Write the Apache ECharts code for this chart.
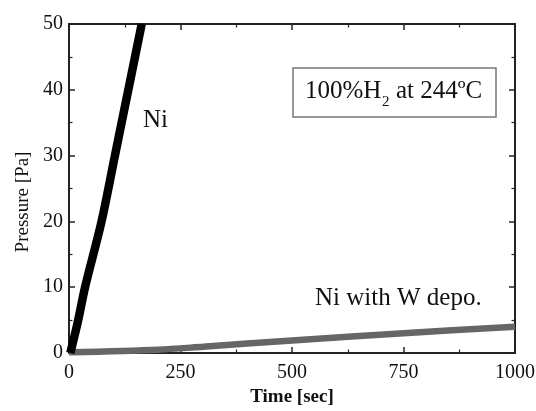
<!DOCTYPE html>
<html>
<head>
<meta charset="utf-8">
<script src="https://cdn.jsdelivr.net/npm/echarts@6/dist/echarts.min.js"></script>
<style>
  html, body { margin: 0; padding: 0; background: #fff; }
  #chart { width: 536px; height: 411px; }
</style>
</head>
<body>
<div id="chart"></div>
<script>
// Ni (plain) pressure rise, [time sec, pressure Pa]
var niData = [[3, 0], [20, 4.8], [36, 10], [73, 20], [103, 30], [133, 40], [163, 50]];
// Ni with W deposition
var niWData = [[0, 0.1], [200, 0.5], [300, 0.95], [500, 1.9], [750, 3.0], [1000, 4.0]];
var xTicks = [0, 250, 500, 750, 1000];
var yTicks = [0, 10, 20, 30, 40, 50];

var serif = '"Liberation Serif", "DejaVu Serif", serif';
var axisColor = '#222';

var chart = echarts.init(document.getElementById('chart'));

function frameAxis(extra) {
  return Object.assign({
    type: 'value',
    axisLine: { show: true, onZero: false, lineStyle: { color: axisColor, width: 2 } },
    axisTick: { show: true, inside: true, length: 6, lineStyle: { color: axisColor, width: 1.5 } },
    minorTick: { show: true, splitNumber: 2, length: 3.5, lineStyle: { color: axisColor, width: 1.2 } },
    splitLine: { show: false },
    minorSplitLine: { show: false }
  }, extra);
}

var option = {
  backgroundColor: '#fff',
  animation: false,
  grid: { left: 69, right: 21, top: 24, bottom: 58, outerBoundsMode: 'none' },
  xAxis: [
    frameAxis({
      position: 'bottom', min: xTicks[0], max: xTicks[xTicks.length - 1], interval: 250,
      name: 'Time [sec]', nameLocation: 'middle', nameGap: 35,
      nameTextStyle: { fontFamily: serif, fontSize: 19, fontWeight: 'bold', color: '#111' },
      axisLabel: { margin: 10, fontFamily: serif, fontSize: 20, color: '#111', formatter: function (v) { return String(v); } }
    }),
    frameAxis({
      position: 'top', min: xTicks[0], max: xTicks[xTicks.length - 1], interval: 250,
      axisLabel: { show: false }
    })
  ],
  yAxis: [
    frameAxis({
      position: 'left', min: yTicks[0], max: yTicks[yTicks.length - 1], interval: 10,
      name: 'Pressure [Pa]', nameLocation: 'middle', nameGap: 34, nameRotate: 90,
      nameTextStyle: { fontFamily: serif, fontSize: 19, color: '#111', padding: [0, 27, 0, 0] },
      axisLabel: { margin: 6, fontFamily: serif, fontSize: 20, color: '#111' }
    }),
    frameAxis({
      position: 'right', min: yTicks[0], max: yTicks[yTicks.length - 1], interval: 10,
      axisLabel: { show: false }
    })
  ],
  series: [
    {
      name: 'Ni with W depo.',
      type: 'line',
      data: niWData,
      showSymbol: false,
      smooth: 0.3,
      lineStyle: { color: '#666', width: 6.5 },
      clip: true
    },
    {
      name: 'Ni',
      type: 'line',
      data: niData,
      showSymbol: false,
      smooth: 0.3,
      lineStyle: { color: '#000', width: 8.5 },
      clip: true
    }
  ],
  graphic: [
    { type: 'text', left: 143, top: 108, style: { text: 'Ni', font: '25px ' + serif, fill: '#111' } },
    { type: 'text', left: 315, top: 286, style: { text: 'Ni with W depo.', font: '25px ' + serif, fill: '#111' } },
    { type: 'rect', shape: { x: 293, y: 68, width: 203, height: 49 }, style: { fill: '#fff', stroke: '#777', lineWidth: 1.5 } },
    { type: 'text', x: 305, y: 79, style: { text: '100%H', font: '25px ' + serif, fill: '#111' } },
    { type: 'text', x: 382, y: 95, style: { text: '2', font: '15px ' + serif, fill: '#111' } },
    { type: 'text', x: 396, y: 79, style: { text: 'at 244ºC', font: '25px ' + serif, fill: '#111' } }
  ]
};

chart.setOption(option);
</script>
</body>
</html>
